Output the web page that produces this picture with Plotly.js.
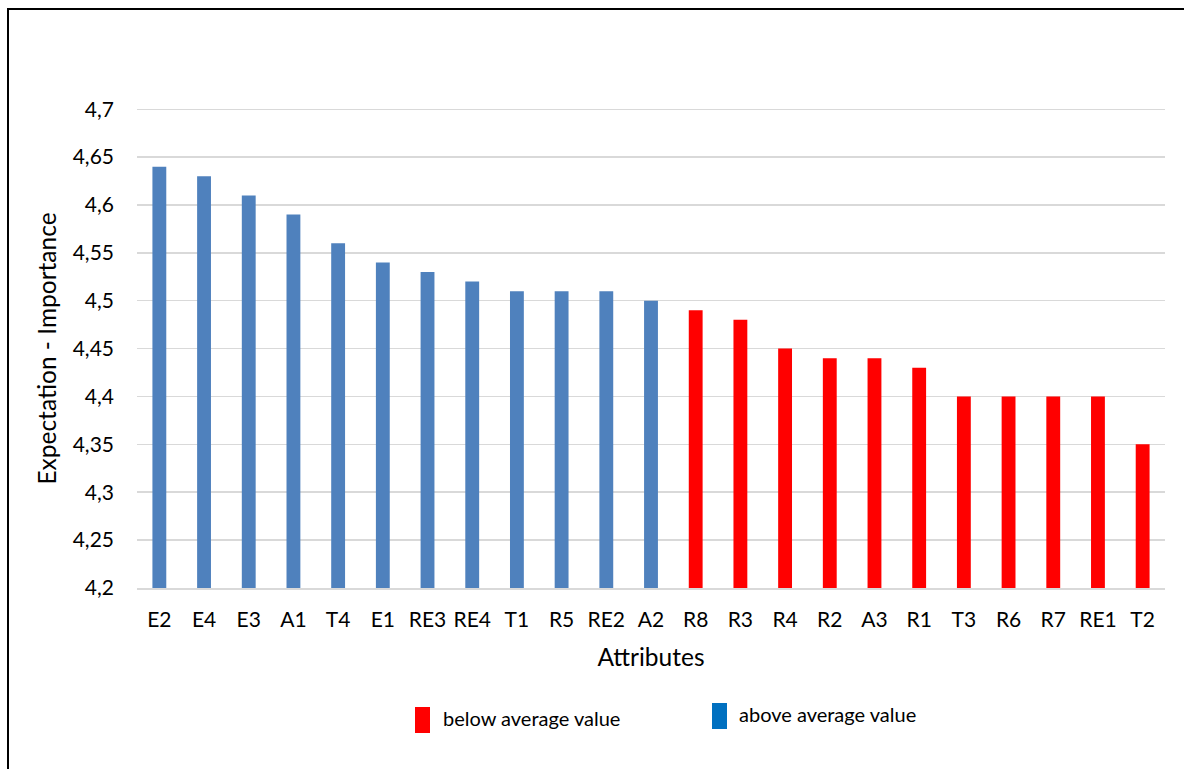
<!DOCTYPE html>
<html>
<head>
<meta charset="utf-8">
<script src="https://cdn.plot.ly/plotly-3.0.1.min.js"></script>
<style>
  html, body { margin: 0; padding: 0; background: #fff; overflow: hidden; }
  #wrap { position: relative; width: 1184px; height: 769px; overflow: hidden; }
  #chart { position: absolute; left: 0; top: 0; width: 1184px; height: 769px; }
  #frame { position: absolute; left: 7px; top: 8px; width: 1300px; height: 900px;
           border: 2px solid #000; box-sizing: border-box; pointer-events: none; }
</style>
</head>
<body>
<div id="wrap">
  <div id="chart"></div>
  <div id="frame"></div>
</div>
<script>
// Attribute codes, in ranked order
const attributes = ["E2","E4","E3","A1","T4","E1","RE3","RE4","T1","R5","RE2","A2",
                    "R8","R3","R4","R2","A3","R1","T3","R6","R7","RE1","T2"];
// Mean expectation-importance score per attribute
const scores = [4.64,4.63,4.61,4.59,4.56,4.54,4.53,4.52,4.51,4.51,4.51,4.50,
                4.49,4.48,4.45,4.44,4.44,4.43,4.40,4.40,4.40,4.40,4.35];
// Group of each attribute relative to the average
const groups = ["above","above","above","above","above","above","above","above","above","above","above","above",
                "below","below","below","below","below","below","below","below","below","below","below"];
const yTicks = [4.2,4.25,4.3,4.35,4.4,4.45,4.5,4.55,4.6,4.65,4.7];
const legendLabels = ["below average value","above average value"];

const barColors = { above: "#4F81BD", below: "#FF0000" };
const legendColors = ["#FF0000", "#0070C0"];

const W = 1184, H = 769;
const M = { l: 137, r: 19, t: 109, b: 181 };
const PW = W - M.l - M.r, PH = H - M.t - M.b;
const px = x => (x - M.l) / PW;
const py = y => (H - M.b - y) / PH;

const FONT = "Lato, 'Open Sans', sans-serif";

const trace = {
  type: "bar",
  x: attributes,
  y: scores,
  marker: { color: groups.map(g => barColors[g]) },
  hovertemplate: "%{x}: %{y}<extra></extra>",
  showlegend: false
};

const shapes = [
  // top gridline at the upper end of the value range
  { type: "line", xref: "paper", yref: "y", layer: "below",
    x0: 0, x1: 1, y0: yTicks[yTicks.length - 1], y1: yTicks[yTicks.length - 1],
    line: { color: "#d9d9d9", width: 1.5 } },
  // legend swatches
  { type: "rect", xref: "paper", yref: "paper",
    x0: px(415), x1: px(430), y0: py(733), y1: py(707),
    fillcolor: legendColors[0], line: { width: 0 } },
  { type: "rect", xref: "paper", yref: "paper",
    x0: px(712), x1: px(727), y0: py(729), y1: py(703),
    fillcolor: legendColors[1], line: { width: 0 } }
];
const legendText = [
  { xref: "paper", yref: "paper", x: px(441), y: py(718), xanchor: "left", yanchor: "middle",
    text: legendLabels[0], showarrow: false, font: { family: FONT, size: 20, color: "#000" } },
  { xref: "paper", yref: "paper", x: px(737), y: py(714), xanchor: "left", yanchor: "middle",
    text: legendLabels[1], showarrow: false, font: { family: FONT, size: 20, color: "#000" } }
];

const layout = {
  width: W, height: H,
  margin: M,
  paper_bgcolor: "#fff", plot_bgcolor: "#fff",
  separators: ",.",
  font: { family: FONT, size: 21, color: "#000" },
  bargap: 0.69,
  xaxis: {
    type: "category",
    showgrid: false,
    showline: true, linecolor: "#d9d9d9", linewidth: 2,
    ticks: "", ticklabelstandoff: 12,
    tickfont: { family: FONT, size: 21, color: "#000" },
    title: { text: "Attributes", font: { family: FONT, size: 24.5, color: "#000" }, standoff: 19 },
    fixedrange: true
  },
  yaxis: {
    range: [4.2, 4.7002],
    tickvals: yTicks,
    showgrid: true, gridcolor: "#d9d9d9", gridwidth: 1.5,
    zeroline: false, showline: false,
    ticks: "", ticklabelstandoff: 22,
    tickfont: { family: FONT, size: 21, color: "#000" },
    title: { text: "Expectation - Importance", font: { family: FONT, size: 24.5, color: "#000" }, standoff: 9 },
    fixedrange: true
  },
  shapes: shapes,
  annotations: legendText
};

Plotly.newPlot("chart", [trace], layout, { displayModeBar: false, staticPlot: true });
</script>
</body>
</html>
